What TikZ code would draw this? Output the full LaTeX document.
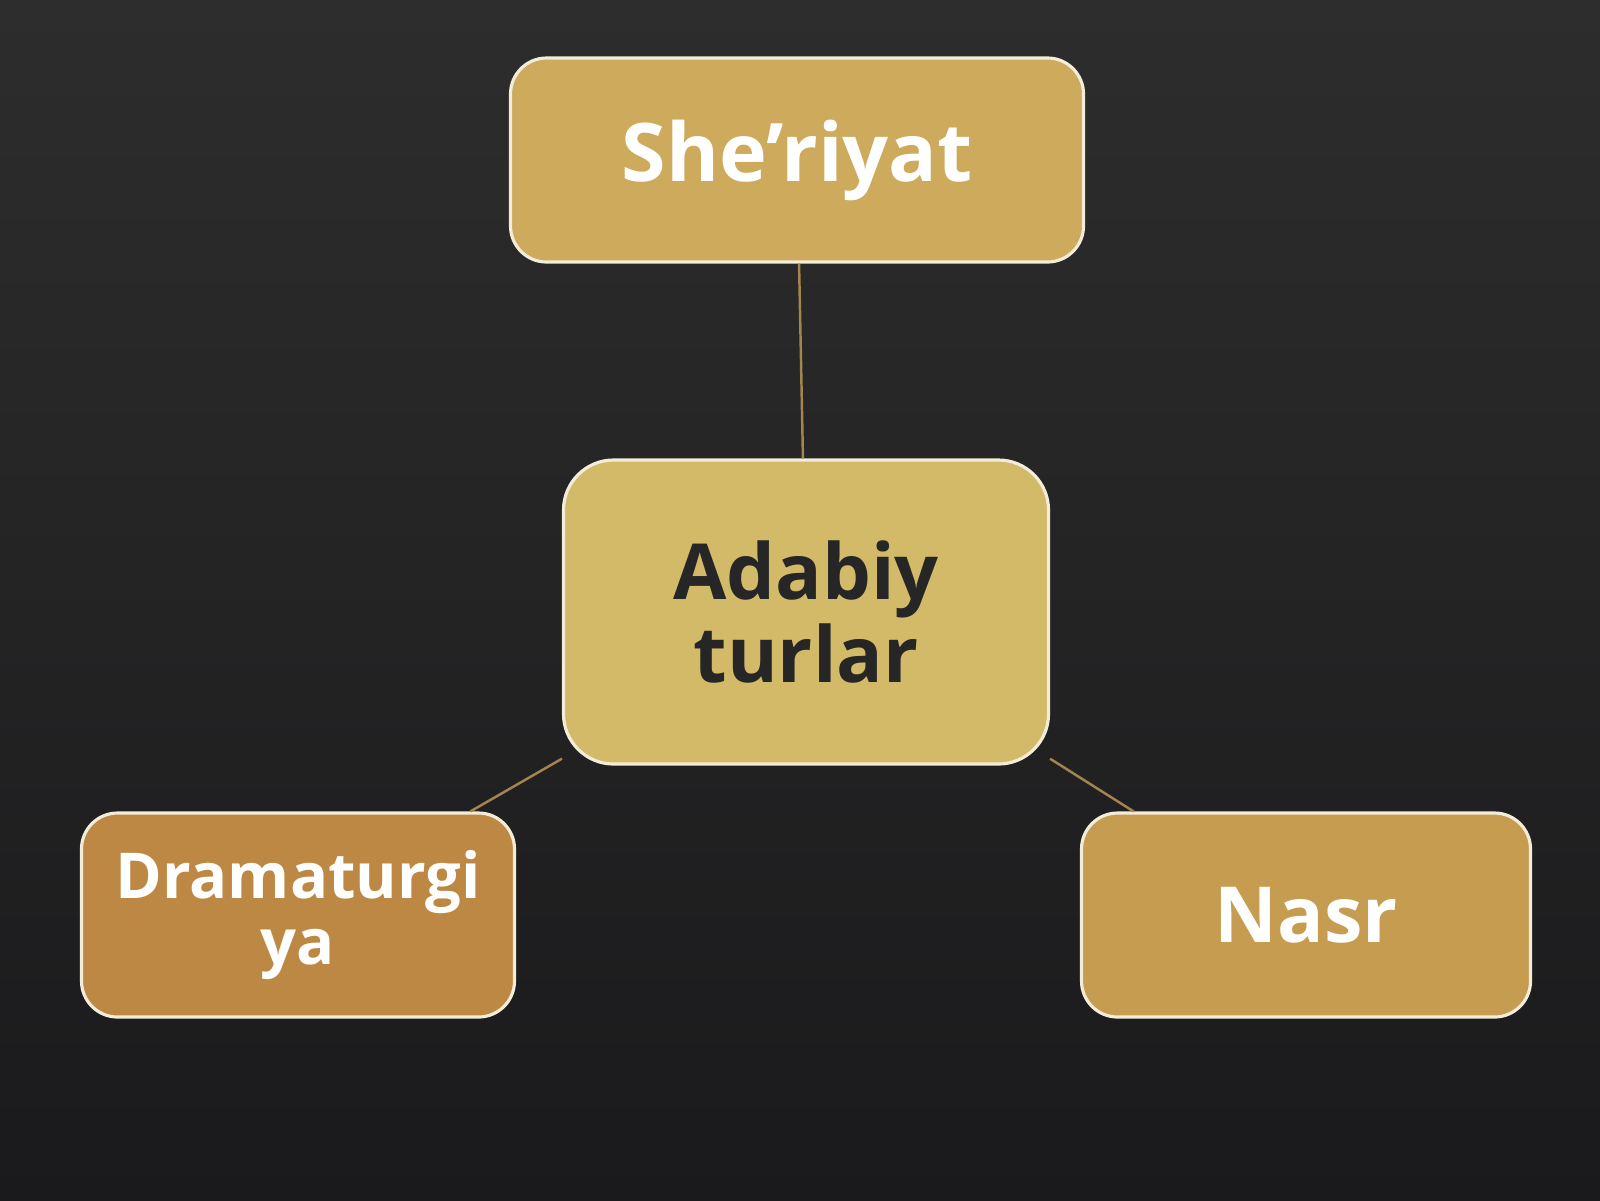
\documentclass[tikz,border=0pt]{standalone}
\usepackage{fontspec}
\setmainfont{Open Sans}
\definecolor{bgTop}{HTML}{2D2D2D}
\definecolor{bgBottom}{HTML}{1A1A1C}
\definecolor{goldTop}{HTML}{CDAA5C}
\definecolor{goldMid}{HTML}{D3BA69}
\definecolor{goldLeft}{HTML}{BD8843}
\definecolor{goldRight}{HTML}{C69D50}
\definecolor{edgeLine}{HTML}{F3ECD8}
\definecolor{linkLine}{HTML}{A4844F}
\begin{document}
\begin{tikzpicture}[boxStyle/.style={draw=edgeLine, line width=0.9pt, rounded corners=0.36cm, align=center, font=\bfseries, text=white, inner sep=0pt},
                    linkStyle/.style={draw=linkLine, line width=0.7pt}]
    \shade[top color=bgTop, bottom color=bgBottom] (0, 0) rectangle (16, -12);
    \useasboundingbox (0, 0) rectangle (16, -12);

    \node[boxStyle, fill=goldTop, minimum width=5.73cm, minimum height=2.04cm, font=\fontsize{23}{24}\bfseries](sheriyat) at (7.97, -1.60) {She’riyat};
    \node[boxStyle, fill=goldMid, minimum width=4.85cm, minimum height=3.04cm, rounded corners=0.5cm, text={black!85}, font=\fontsize{22}{23.5}\bfseries](adabiy) at (8.06, -6.12) {Adabiy\\turlar};
    \node[boxStyle, fill=goldLeft, minimum width=4.33cm, minimum height=2.04cm, font=\fontsize{18}{19}\bfseries](drama) at (2.98, -9.15) {Dramaturgi\\ya};
    \node[boxStyle, fill=goldRight, minimum width=4.49cm, minimum height=2.04cm, font=\fontsize{22}{23}\bfseries](nasr) at (13.06, -9.15) {Nasr};

    \draw[linkStyle] (sheriyat) -- (adabiy);
    \draw[linkStyle] (adabiy.211) -- (drama.31);
    \draw[linkStyle] (adabiy.-31) -- (nasr.149);
\end{tikzpicture}
\end{document}
